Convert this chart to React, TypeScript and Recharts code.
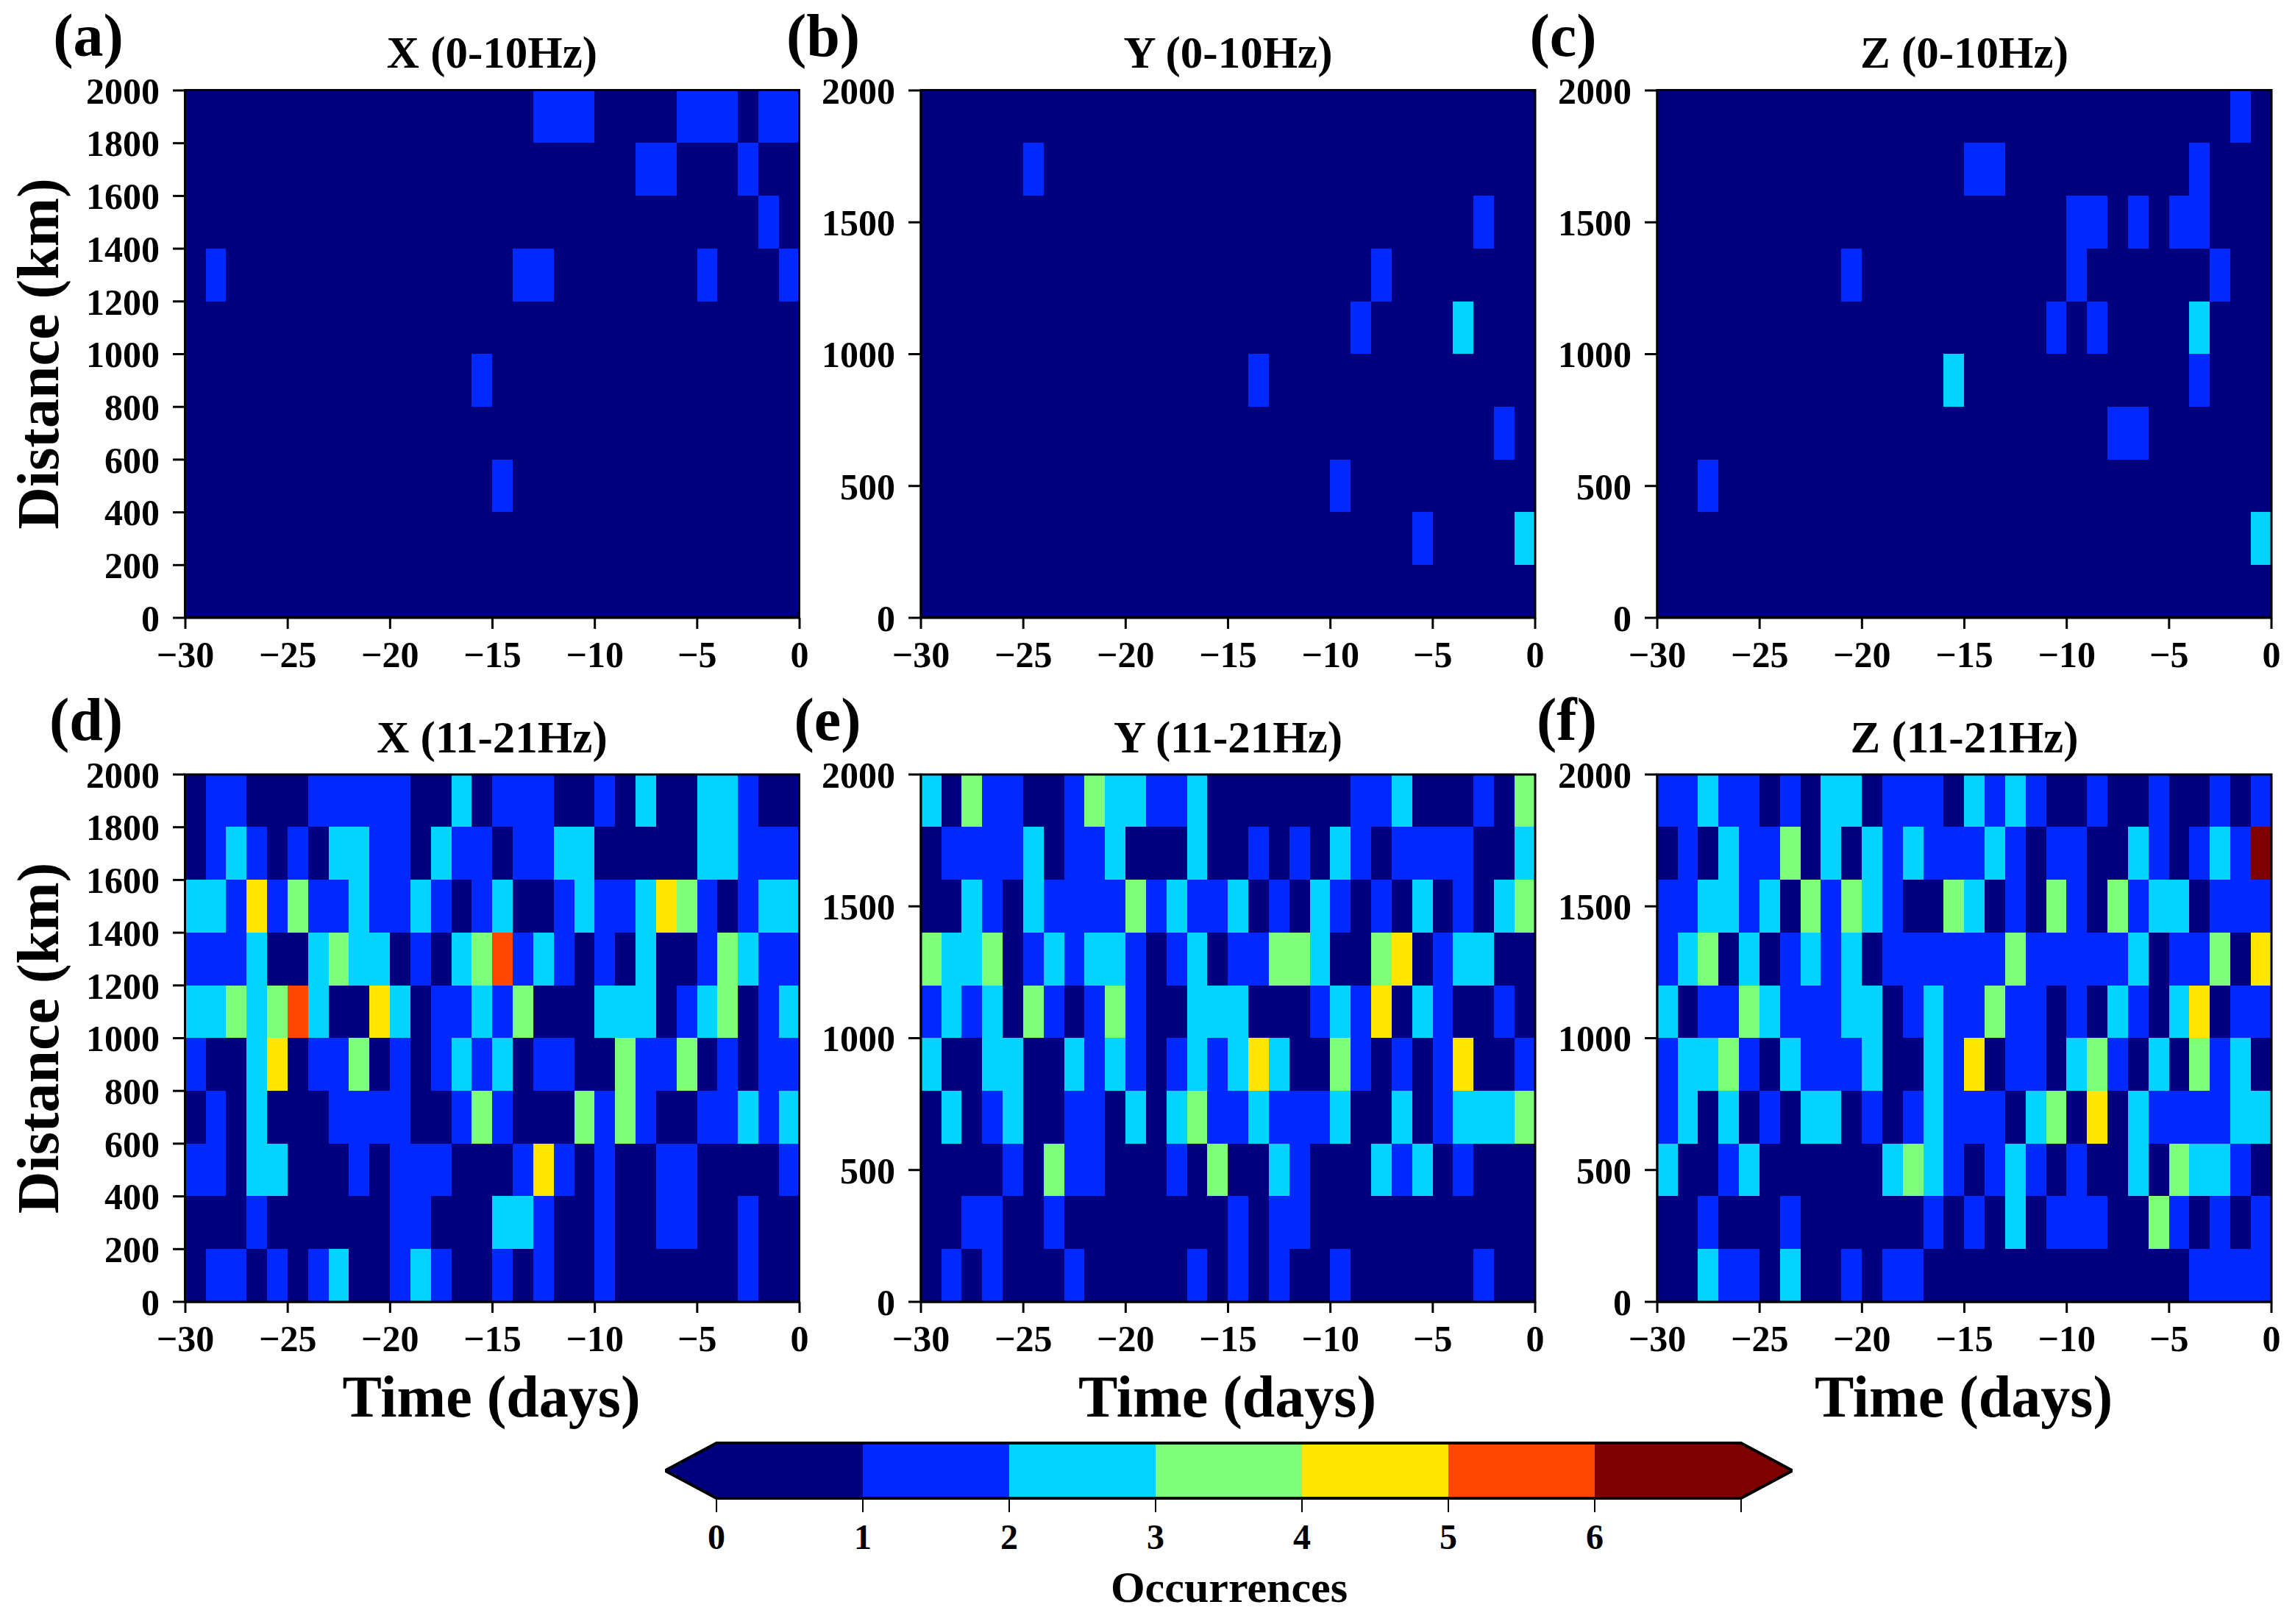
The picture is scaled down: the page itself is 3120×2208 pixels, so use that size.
import React from 'react';
import { ScatterChart, Scatter, XAxis, YAxis } from 'recharts';

const SERIF = '"Liberation Serif", "Times New Roman", serif';

// one colour per occurrence count, 0 to 6
const LEVEL_COLORS = ['#00007f', '#0028ff', '#00d4ff', '#7dff7a', '#ffe600', '#ff4800', '#7f0000'];
const COLORBAR_TICKS = [0, 1, 2, 3, 4, 5, 6, 7];
const TIME_TICKS = [-30, -25, -20, -15, -10, -5, 0];
const DIST_TICKS_200 = [0, 200, 400, 600, 800, 1000, 1200, 1400, 1600, 1800, 2000];
const DIST_TICKS_500 = [0, 500, 1000, 1500, 2000];

// rows run from the top bin (1800-2000 km) down, columns from -30 days to 0
const X_LOW = [
  [0,0,0,0,0,0,0,0,0,0,0,0,0,0,0,0,0,1,1,1,0,0,0,0,1,1,1,0,1,1],
  [0,0,0,0,0,0,0,0,0,0,0,0,0,0,0,0,0,0,0,0,0,0,1,1,0,0,0,1,0,0],
  [0,0,0,0,0,0,0,0,0,0,0,0,0,0,0,0,0,0,0,0,0,0,0,0,0,0,0,0,1,0],
  [0,1,0,0,0,0,0,0,0,0,0,0,0,0,0,0,1,1,0,0,0,0,0,0,0,1,0,0,0,1],
  [0,0,0,0,0,0,0,0,0,0,0,0,0,0,0,0,0,0,0,0,0,0,0,0,0,0,0,0,0,0],
  [0,0,0,0,0,0,0,0,0,0,0,0,0,0,1,0,0,0,0,0,0,0,0,0,0,0,0,0,0,0],
  [0,0,0,0,0,0,0,0,0,0,0,0,0,0,0,0,0,0,0,0,0,0,0,0,0,0,0,0,0,0],
  [0,0,0,0,0,0,0,0,0,0,0,0,0,0,0,1,0,0,0,0,0,0,0,0,0,0,0,0,0,0],
  [0,0,0,0,0,0,0,0,0,0,0,0,0,0,0,0,0,0,0,0,0,0,0,0,0,0,0,0,0,0],
  [0,0,0,0,0,0,0,0,0,0,0,0,0,0,0,0,0,0,0,0,0,0,0,0,0,0,0,0,0,0],
];

const Y_LOW = [
  [0,0,0,0,0,0,0,0,0,0,0,0,0,0,0,0,0,0,0,0,0,0,0,0,0,0,0,0,0,0],
  [0,0,0,0,0,1,0,0,0,0,0,0,0,0,0,0,0,0,0,0,0,0,0,0,0,0,0,0,0,0],
  [0,0,0,0,0,0,0,0,0,0,0,0,0,0,0,0,0,0,0,0,0,0,0,0,0,0,0,1,0,0],
  [0,0,0,0,0,0,0,0,0,0,0,0,0,0,0,0,0,0,0,0,0,0,1,0,0,0,0,0,0,0],
  [0,0,0,0,0,0,0,0,0,0,0,0,0,0,0,0,0,0,0,0,0,1,0,0,0,0,2,0,0,0],
  [0,0,0,0,0,0,0,0,0,0,0,0,0,0,0,0,1,0,0,0,0,0,0,0,0,0,0,0,0,0],
  [0,0,0,0,0,0,0,0,0,0,0,0,0,0,0,0,0,0,0,0,0,0,0,0,0,0,0,0,1,0],
  [0,0,0,0,0,0,0,0,0,0,0,0,0,0,0,0,0,0,0,0,1,0,0,0,0,0,0,0,0,0],
  [0,0,0,0,0,0,0,0,0,0,0,0,0,0,0,0,0,0,0,0,0,0,0,0,1,0,0,0,0,2],
  [0,0,0,0,0,0,0,0,0,0,0,0,0,0,0,0,0,0,0,0,0,0,0,0,0,0,0,0,0,0],
];

const Z_LOW = [
  [0,0,0,0,0,0,0,0,0,0,0,0,0,0,0,0,0,0,0,0,0,0,0,0,0,0,0,0,1,0],
  [0,0,0,0,0,0,0,0,0,0,0,0,0,0,0,1,1,0,0,0,0,0,0,0,0,0,1,0,0,0],
  [0,0,0,0,0,0,0,0,0,0,0,0,0,0,0,0,0,0,0,0,1,1,0,1,0,1,1,0,0,0],
  [0,0,0,0,0,0,0,0,0,1,0,0,0,0,0,0,0,0,0,0,1,0,0,0,0,0,0,1,0,0],
  [0,0,0,0,0,0,0,0,0,0,0,0,0,0,0,0,0,0,0,1,0,1,0,0,0,0,2,0,0,0],
  [0,0,0,0,0,0,0,0,0,0,0,0,0,0,2,0,0,0,0,0,0,0,0,0,0,0,1,0,0,0],
  [0,0,0,0,0,0,0,0,0,0,0,0,0,0,0,0,0,0,0,0,0,0,1,1,0,0,0,0,0,0],
  [0,0,1,0,0,0,0,0,0,0,0,0,0,0,0,0,0,0,0,0,0,0,0,0,0,0,0,0,0,0],
  [0,0,0,0,0,0,0,0,0,0,0,0,0,0,0,0,0,0,0,0,0,0,0,0,0,0,0,0,0,2],
  [0,0,0,0,0,0,0,0,0,0,0,0,0,0,0,0,0,0,0,0,0,0,0,0,0,0,0,0,0,0],
];

const X_HIGH = [
  [0,1,1,0,0,0,1,1,1,1,1,0,0,2,0,1,1,1,0,0,1,0,2,0,0,2,2,1,0,0],
  [0,1,2,1,0,1,0,2,2,1,1,0,2,1,1,0,1,1,2,2,0,0,0,0,0,2,2,1,1,1],
  [2,2,1,4,1,3,1,1,2,1,1,2,1,0,1,2,0,0,1,2,1,1,2,4,3,1,0,1,2,2],
  [1,1,1,2,0,0,2,3,2,2,0,1,0,2,3,5,1,2,1,0,1,0,2,0,0,1,3,2,1,1],
  [2,2,3,2,3,5,2,0,0,4,2,0,1,1,2,1,3,0,0,0,2,2,2,0,1,2,3,0,1,2],
  [1,0,0,2,4,0,1,1,3,0,1,0,1,2,1,2,0,1,1,0,0,3,1,1,3,0,1,0,1,1],
  [0,1,0,2,0,0,0,1,1,1,1,0,0,1,3,1,0,0,0,3,1,3,1,0,0,1,1,2,1,2],
  [1,1,0,2,2,0,0,0,1,0,1,1,1,0,0,0,1,4,1,0,1,0,0,1,1,0,0,0,0,1],
  [0,0,0,1,0,0,0,0,0,0,1,1,0,0,0,2,2,1,0,0,1,0,0,1,1,0,0,1,0,0],
  [0,1,1,0,1,0,1,2,0,0,1,2,1,0,0,1,0,1,0,0,1,0,0,0,0,0,0,1,0,0],
];

const Y_HIGH = [
  [2,0,3,1,1,0,0,1,3,2,2,1,1,2,0,0,0,0,0,0,0,1,1,2,0,0,0,1,0,3],
  [0,1,1,1,1,2,0,1,1,2,0,0,0,2,0,0,1,0,1,0,2,1,0,1,1,1,1,0,0,2],
  [0,0,2,1,0,2,1,1,1,1,3,1,2,1,1,2,0,1,0,2,1,0,1,0,2,0,1,0,2,3],
  [3,2,2,3,0,1,2,1,2,2,1,0,1,2,0,1,1,3,3,2,0,0,3,4,0,1,2,2,0,0],
  [1,2,1,2,0,3,1,0,1,3,1,0,0,2,2,2,0,0,0,1,2,1,4,0,2,1,0,0,1,0],
  [2,0,0,2,2,0,0,2,1,2,1,0,1,2,1,2,4,2,0,0,3,1,0,1,0,1,4,0,0,1],
  [0,2,0,1,2,0,0,1,1,0,2,0,2,3,1,1,2,1,1,1,2,0,0,2,0,1,2,2,2,3],
  [0,0,0,0,1,0,3,1,1,0,0,0,1,0,3,0,0,2,1,0,0,0,2,1,2,0,1,0,0,0],
  [0,0,1,1,0,0,1,0,0,0,0,0,0,0,0,1,0,1,1,0,0,0,0,0,0,0,0,0,0,0],
  [0,1,0,1,0,0,0,1,0,0,0,0,0,1,0,1,0,1,0,0,1,0,0,0,0,0,0,1,0,0],
];

const Z_HIGH = [
  [1,1,2,1,1,0,1,0,2,2,0,1,1,1,0,2,1,2,1,0,0,1,0,0,1,0,0,1,0,1],
  [0,1,0,2,1,1,3,0,2,0,2,1,2,1,1,1,2,1,0,1,1,0,0,2,1,0,1,2,1,6],
  [1,1,2,2,1,2,0,3,1,3,2,1,0,0,3,2,0,1,0,3,1,0,3,1,2,2,0,1,1,1],
  [1,2,3,0,2,0,1,2,1,2,0,1,1,1,1,1,1,3,1,1,1,1,1,2,0,1,1,3,0,4],
  [2,0,1,1,3,2,1,1,1,2,2,0,1,2,1,1,3,1,1,0,1,0,2,1,0,2,4,0,1,1],
  [1,2,2,3,1,0,2,1,1,1,2,0,0,2,1,4,0,1,1,0,2,3,1,0,2,0,3,1,2,0],
  [1,2,0,2,0,1,0,2,2,0,1,0,1,2,1,1,1,0,2,3,0,4,0,2,1,1,1,1,2,2],
  [2,0,0,1,2,0,0,0,0,0,0,2,3,2,1,0,1,2,1,0,1,0,0,2,0,3,2,2,1,0],
  [0,0,1,0,0,0,1,0,0,0,0,0,0,1,0,1,0,2,0,1,1,1,0,0,3,1,0,1,0,1],
  [0,0,2,1,1,0,2,0,0,1,0,1,1,0,0,0,0,0,0,0,0,0,0,0,0,0,1,1,1,1],
];

const PLOT_W = 835;
const PLOT_H = 717;
const AXIS_W = 150; // room for the y tick labels, left of the plot
const AXIS_H = 80;
const PAD = 40; // above the plot, so the top tick label is not clipped

const tickStyle = { fontFamily: SERIF, fontWeight: 700, fontSize: 50, fill: '#000' };
const axisStroke = { stroke: '#000', strokeWidth: 3 };

const toCells = (rows: number[][]) =>
  rows.flatMap((row, r) =>
    row.map((count, c) => ({ time: -29.5 + c, dist: 1900 - 200 * r, count })),
  );

const minus = (v: number) => String(v).replace('-', '\u2212');

const CellShape = (props: any) => {
  const w = PLOT_W / 30 + 0.5;
  const h = PLOT_H / 10 + 0.5;
  return (
    <rect
      x={props.cx - w / 2}
      y={props.cy - h / 2}
      width={w}
      height={h}
      fill={LEVEL_COLORS[props.payload.count]}
      shapeRendering="crispEdges"
    />
  );
};

function Panel({ plotLeft, plotTop, rows, distTicks }: any) {
  return (
    <div style={{ position: 'absolute', left: plotLeft - AXIS_W, top: plotTop - PAD }}>
      <ScatterChart
        width={AXIS_W + PLOT_W + 40}
        height={PAD + PLOT_H + AXIS_H}
        margin={{ top: PAD, right: 40, bottom: 0, left: 0 }}
      >
        <XAxis
          type="number"
          dataKey="time"
          domain={[-30, 0]}
          ticks={TIME_TICKS}
          interval={0}
          tickFormatter={minus}
          height={AXIS_H}
          tickSize={15}
          tickMargin={16}
          tick={tickStyle}
          axisLine={axisStroke}
          tickLine={axisStroke}
        />
        <YAxis
          type="number"
          dataKey="dist"
          domain={[0, 2000]}
          ticks={distTicks}
          interval={0}
          width={AXIS_W}
          tickSize={17}
          tickMargin={18}
          tick={tickStyle}
          axisLine={axisStroke}
          tickLine={axisStroke}
        />
        <Scatter data={toCells(rows)} shape={CellShape} isAnimationActive={false} />
      </ScatterChart>
    </div>
  );
}

// colour bar: same idea, one row of cells with pointed ends
const BAR_LEFT = 904;
const BAR_W = 1533;
const BAR_TOP = 1962;
const BAR_H = 75;
const BAR_OVER = 0.352;
const BAR_UNIT = BAR_W / (7 + 2 * BAR_OVER);

const barCells = LEVEL_COLORS.map((_, i) => ({ level: i + 0.5, mid: 0.5, count: i }));

const BarShape = (props: any) => {
  const { cx, cy, payload } = props;
  const half = BAR_UNIT / 2;
  const t = cy - BAR_H / 2;
  const b = cy + BAR_H / 2;
  const l = cx - half;
  const r = cx + half;
  const tip = BAR_UNIT * BAR_OVER;
  let fillPath = `M${l} ${t}L${r} ${t}L${r} ${b}L${l} ${b}Z`;
  let linePath = `M${l} ${t}L${r} ${t}M${l} ${b}L${r} ${b}`;
  if (payload.count === 0) {
    fillPath = `M${l - tip} ${cy}L${l} ${t}L${r} ${t}L${r} ${b}L${l} ${b}Z`;
    linePath = `M${r} ${t}L${l} ${t}L${l - tip} ${cy}L${l} ${b}L${r} ${b}`;
  }
  if (payload.count === 6) {
    fillPath = `M${l} ${t}L${r} ${t}L${r + tip} ${cy}L${r} ${b}L${l} ${b}Z`;
    linePath = `M${l} ${t}L${r} ${t}L${r + tip} ${cy}L${r} ${b}L${l} ${b}`;
  }
  return (
    <g>
      <path d={fillPath} fill={LEVEL_COLORS[payload.count]} />
      <path d={linePath} fill="none" stroke="#000" strokeWidth={4} />
    </g>
  );
};

function ColorBar() {
  return (
    <div style={{ position: 'absolute', left: BAR_LEFT - 20, top: BAR_TOP - 5 }}>
      <ScatterChart
        width={BAR_W + 40}
        height={5 + BAR_H + 90}
        margin={{ top: 5, right: 20, bottom: 0, left: 20 }}
      >
        <XAxis
          type="number"
          dataKey="level"
          domain={[-BAR_OVER, 7 + BAR_OVER]}
          allowDataOverflow
          ticks={COLORBAR_TICKS}
          interval={0}
          tickFormatter={(v: number) => (v === 7 ? '' : String(v))}
          height={90}
          tickSize={19}
          tickMargin={16}
          tick={{ ...tickStyle, fontSize: 48 }}
          axisLine={false}
          tickLine={{ stroke: '#000', strokeWidth: 2 }}
        />
        <YAxis type="number" dataKey="mid" domain={[0, 1]} hide />
        <Scatter data={barCells} shape={BarShape} isAnimationActive={false} />
      </ScatterChart>
    </div>
  );
}

const PANEL_LEFTS = [251.5, 1252, 2253];
const ROW_TOPS = [122.5, 1053];

const PANELS = [
  { col: 0, row: 0, rows: X_LOW, ticks: DIST_TICKS_200, title: 'X (0-10Hz)', tag: '(a)', tagX: 120 },
  { col: 1, row: 0, rows: Y_LOW, ticks: DIST_TICKS_500, title: 'Y (0-10Hz)', tag: '(b)', tagX: 1119 },
  { col: 2, row: 0, rows: Z_LOW, ticks: DIST_TICKS_500, title: 'Z (0-10Hz)', tag: '(c)', tagX: 2125 },
  { col: 0, row: 1, rows: X_HIGH, ticks: DIST_TICKS_200, title: 'X (11-21Hz)', tag: '(d)', tagX: 117 },
  { col: 1, row: 1, rows: Y_HIGH, ticks: DIST_TICKS_500, title: 'Y (11-21Hz)', tag: '(e)', tagX: 1125 },
  { col: 2, row: 1, rows: Z_HIGH, ticks: DIST_TICKS_500, title: 'Z (11-21Hz)', tag: '(f)', tagX: 2130 },
];

const TITLE_BASE = [92, 1023];
const TAG_BASE = [76, 1006];

export default function App() {
  const bold = { fontFamily: SERIF, fontWeight: 700, fill: '#000', textAnchor: 'middle' } as const;
  return (
    <div style={{ position: 'absolute', left: 0, top: 0, width: 3120, height: 2208, background: '#fff' }}>
      {PANELS.map((p) => (
        <Panel
          key={p.tag}
          plotLeft={PANEL_LEFTS[p.col]}
          plotTop={ROW_TOPS[p.row]}
          rows={p.rows}
          distTicks={p.ticks}
        />
      ))}
      <ColorBar />
      <svg width={3120} height={2208} style={{ position: 'absolute', left: 0, top: 0, pointerEvents: 'none' }}>
        {PANELS.map((p) => (
          <g key={p.tag}>
            {/* black frame on all four sides of the plot, above the cells */}
            <rect
              x={PANEL_LEFTS[p.col]}
              y={ROW_TOPS[p.row]}
              width={PLOT_W}
              height={PLOT_H}
              fill="none"
              stroke="#000"
              strokeWidth={3}
            />
            <text x={p.tagX} y={TAG_BASE[p.row]} fontSize={82} {...bold}>{p.tag}</text>
            <text x={PANEL_LEFTS[p.col] + PLOT_W / 2} y={TITLE_BASE[p.row]} fontSize={61} {...bold}>{p.title}</text>
            {p.col === 0 && (
              <text
                x={0}
                y={0}
                fontSize={80}
                transform={`translate(79 ${ROW_TOPS[p.row] + PLOT_H / 2}) rotate(-90)`}
                {...bold}
              >
                Distance (km)
              </text>
            )}
            {p.row === 1 && (
              <text x={PANEL_LEFTS[p.col] + PLOT_W / 2 - 1} y={1926} fontSize={80} {...bold}>Time (days)</text>
            )}
          </g>
        ))}
        <text x={1671} y={2178} fontSize={60} {...bold}>Occurrences</text>
      </svg>
    </div>
  );
}
